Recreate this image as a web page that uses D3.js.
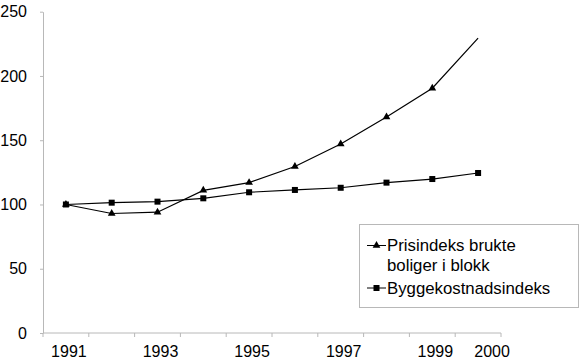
<!DOCTYPE html>
<html>
<head>
<meta charset="utf-8">
<script src="https://cdn.jsdelivr.net/npm/d3@7"></script>
<style>
  body { margin: 0; background: #fff; }
  svg { font-family: "Liberation Sans", Arial, sans-serif; }
</style>
</head>
<body>
<svg id="chart"></svg>
<script>
var width = 580;
var height = 361;

var years = [1991, 1992, 1993, 1994, 1995, 1996, 1997, 1998, 1999, 2000];
var shownYears = [1991, 1993, 1995, 1997, 1999, 2000];
var prisindeks = [100, 93, 94, 111, 117, 129.5, 147, 168, 190.5, 229.5];
var byggekostnad = [100, 101.4, 102.2, 104.8, 109.5, 111.3, 113, 117, 119.8, 124.5];
var yTicks = [0, 50, 100, 150, 200, 250];

var plotLeft = 43, plotRight = 501, plotTop = 11.7, plotBottom = 333;

var svg = d3.select('#chart')
    .attr('width', width)
    .attr('height', height);

var xScale = d3.scaleBand()
    .domain(years)
    .range([plotLeft, plotRight]);

var yScale = d3.scaleLinear()
    .domain([0, 250])
    .range([plotBottom, plotTop]);

// y axis
var yAxis = d3.axisLeft(yScale)
    .tickValues(yTicks)
    .tickSize(3)
    .tickPadding(13)
    .tickSizeOuter(0);

var gy = svg.append('g')
    .attr('transform', 'translate(' + plotLeft + ',0)')
    .call(yAxis);

// x axis: ticks at category boundaries, labels at centers
var gx = svg.append('g')
    .attr('transform', 'translate(0,' + plotBottom + ')');

gx.append('line')
    .attr('x1', plotLeft).attr('x2', plotRight)
    .attr('stroke', '#b8b8b8');

gx.selectAll('.bound')
    .data(years.map(y => xScale(y)).concat([plotRight]))
    .enter()
    .append('line')
        .attr('x1', d => d).attr('x2', d => d)
        .attr('y1', 0).attr('y2', 4)
        .attr('stroke', '#b8b8b8');

gx.selectAll('.lab')
    .data(shownYears)
    .enter()
    .append('text')
        .attr('x', d => xScale(d) + xScale.bandwidth() / 2)
        .attr('dx', d => d === 2000 ? 14 : 3)
        .attr('y', 24)
        .style('text-anchor', 'middle')
        .style('font-size', '16px')
        .attr('fill', '#000')
        .text(d => d);

gy.select('.domain').attr('stroke', '#b8b8b8');
gy.selectAll('.tick line').attr('stroke', '#b8b8b8');
gy.selectAll('.tick text')
    .style('font-size', '16px')
    .attr('fill', '#000');

var line = d3.line()
    .x((d, i) => xScale(years[i]) + xScale.bandwidth() / 2)
    .y(d => yScale(d));

svg.append('path')
    .datum(prisindeks)
    .attr('d', line)
    .attr('fill', 'none')
    .attr('stroke', '#000')
    .attr('stroke-width', 1.2);

svg.append('path')
    .datum(byggekostnad)
    .attr('d', line)
    .attr('fill', 'none')
    .attr('stroke', '#000')
    .attr('stroke-width', 1.2);

var tri = d3.symbol().type(d3.symbolTriangle).size(26);

// last price point has no marker in the original
svg.selectAll('.tri')
    .data(prisindeks.slice(0, 9))
    .enter()
    .append('path')
        .attr('d', tri)
        .attr('transform', (d, i) => 'translate(' + (xScale(years[i]) + xScale.bandwidth() / 2) + ',' + yScale(d) + ')')
        .attr('fill', '#000');

svg.selectAll('.sq')
    .data(byggekostnad)
    .enter()
    .append('rect')
        .attr('x', (d, i) => xScale(years[i]) + xScale.bandwidth() / 2 - 3)
        .attr('y', d => yScale(d) - 3)
        .attr('width', 6)
        .attr('height', 6)
        .attr('fill', '#000');

// legend
var legend = svg.append('g');

legend.append('rect')
    .attr('x', 359.5).attr('y', 224.5)
    .attr('width', 219).attr('height', 83)
    .attr('fill', '#fff')
    .attr('stroke', '#b8b8b8');

var legendItems = [
    { lines: ['Prisindeks brukte', 'boliger i blokk'], marker: 'tri', y: 245.5 },
    { lines: ['Byggekostnadsindeks'], marker: 'sq', y: 288 }
];

legendItems.forEach(function(item){
    legend.append('line')
        .attr('x1', 367).attr('x2', 386)
        .attr('y1', item.y).attr('y2', item.y)
        .attr('stroke', '#000');
    if(item.marker === 'tri'){
        legend.append('path')
            .attr('d', tri)
            .attr('transform', 'translate(376.5,' + item.y + ')')
            .attr('fill', '#000');
    } else {
        legend.append('rect')
            .attr('x', 373.5).attr('y', item.y - 3)
            .attr('width', 6).attr('height', 6)
            .attr('fill', '#000');
    }
    item.lines.forEach(function(t, k){
        legend.append('text')
            .attr('x', 387)
            .attr('y', item.y + 5.5 + k * 20)
            .style('font-size', '16.8px')
            .attr('fill', '#000')
            .text(t);
    });
});
</script>
</body>
</html>
